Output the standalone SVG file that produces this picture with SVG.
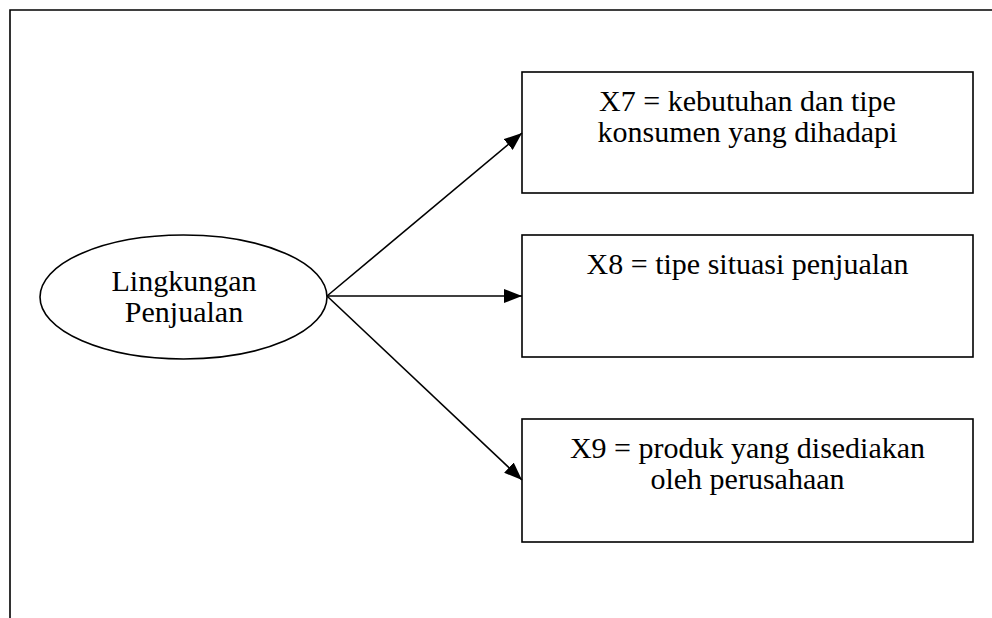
<svg xmlns="http://www.w3.org/2000/svg" width="992" height="618" viewBox="0 0 992 618">
  <style>
    .frame { fill: none; stroke: #000; stroke-width: 1.6; }
    .shape { fill: #fff; stroke: #000; stroke-width: 1.6; }
    .edge { fill: none; stroke: #000; stroke-width: 1.6; marker-end: url(#arrow); }
    .label { font-family: "Liberation Serif", "Times New Roman", serif; font-size: 30px; fill: #000; text-anchor: middle; }
  </style>
  <defs>
    <marker id="arrow" viewBox="0 0 18 14" refX="18" refY="7" markerWidth="18" markerHeight="14" markerUnits="userSpaceOnUse" orient="auto">
      <path d="M0,0 L18,7 L0,14 Z" fill="#000"/>
    </marker>
  </defs>
  <rect width="992" height="618" fill="#fff"/>

  <!-- open frame: top and left sides only -->
  <path class="frame" d="M10,618 V10 H992"/>

  <g id="lingkungan">
    <ellipse class="shape" cx="183.5" cy="297" rx="143.5" ry="62"/>
    <text class="label" x="184" y="291">Lingkungan</text>
    <text class="label" x="184" y="322">Penjualan</text>
  </g>

  <g id="x7">
    <rect class="shape" x="522" y="72" width="451" height="121"/>
    <text class="label" x="747.5" y="111">X7 = kebutuhan dan tipe</text>
    <text class="label" x="747.5" y="142">konsumen yang dihadapi</text>
  </g>

  <g id="x8">
    <rect class="shape" x="522" y="235" width="451" height="122"/>
    <text class="label" x="747.5" y="274">X8 = tipe situasi penjualan</text>
  </g>

  <g id="x9">
    <rect class="shape" x="522" y="419" width="451" height="123"/>
    <text class="label" x="747.5" y="458">X9 = produk yang disediakan</text>
    <text class="label" x="747.5" y="489">oleh perusahaan</text>
  </g>

  <g id="connectors">
    <line class="edge" x1="327" y1="296" x2="522" y2="133"/>
    <line class="edge" x1="327" y1="296" x2="522" y2="296"/>
    <line class="edge" x1="327" y1="296" x2="522" y2="480"/>
  </g>
</svg>
